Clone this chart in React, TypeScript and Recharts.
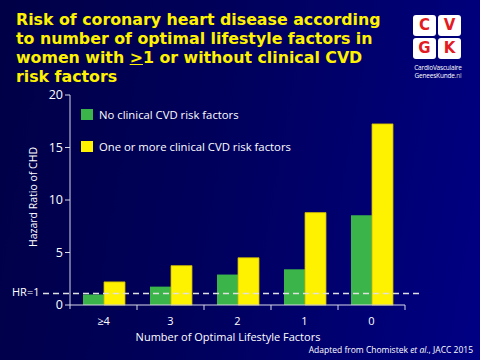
import { BarChart, Bar, XAxis, YAxis, ReferenceLine } from "recharts";

const categories = ["≥4", "3", "2", "1", "0"];
const noRiskFactors = [1.0, 1.75, 2.9, 3.4, 8.55];
const withRiskFactors = [2.2, 3.75, 4.5, 8.8, 17.25];
const yTicks = [0, 5, 10, 15, 20];

const data = categories.map((c, i) => ({
  cat: c,
  none: noRiskFactors[i],
  some: withRiskFactors[i],
}));

const GREEN = "#3bb54a";
const YELLOW = "#fff200";
const AXIS = "#d8d8e8";
const BAND = 67;

function XTick(props: any) {
  const { x, y, payload, index } = props;
  return (
    <g>
      {index === 0 && (
        <line x1={x - BAND / 2} x2={x - BAND / 2} y1={y - 8} y2={y - 4} stroke={AXIS} />
      )}
      <line x1={x + BAND / 2} x2={x + BAND / 2} y1={y - 8} y2={y - 3} stroke={AXIS} />
      <text x={x} y={y + 12} textAnchor="middle" fill="#fff" fontSize={11} fontFamily="Open Sans">
        {payload.value}
      </text>
    </g>
  );
}

// dashed HR line runs a bit past the plot on both sides
function HrLine(props: any) {
  const { x1, x2, y1 } = props;
  return (
    <line
      x1={x1 - 27}
      x2={x2 + 17}
      y1={y1}
      y2={y1}
      stroke="#e0e0e0"
      strokeWidth={1.6}
      strokeDasharray="6 4"
    />
  );
}

function Logo() {
  const box = (l: string, left: number, top: number) => (
    <div
      style={{
        position: "absolute",
        left,
        top,
        width: 23,
        height: 21,
        background: "#fff",
        borderRadius: 3,
        color: "#e31b23",
        fontWeight: 700,
        fontSize: 15,
        lineHeight: "21px",
        textAlign: "center",
        fontFamily: "DejaVu Sans",
      }}
    >
      {l}
    </div>
  );
  const small = {
    position: "absolute" as const,
    left: -5,
    width: 60,
    textAlign: "center" as const,
    color: "#fff",
    fontSize: 6.5,
    lineHeight: "7px",
    height: 7,
    fontFamily: "Open Sans",
    letterSpacing: -0.2,
    whiteSpace: "nowrap" as const,
  };
  return (
    <div style={{ position: "absolute", left: 413, top: 15, width: 50, height: 64 }}>
      {box("C", 0, 0)}
      {box("V", 25, 0)}
      {box("G", 0, 23)}
      {box("K", 25, 23)}
      <div style={{ ...small, top: 49 }}>CardioVasculaire</div>
      <div style={{ ...small, top: 57 }}>
        GeneesKunde<span style={{ color: "#ccc" }}>.nl</span>
      </div>
    </div>
  );
}

export default function App() {
  return (
    <div
      style={{
        position: "absolute",
        left: 0,
        top: 0,
        width: 480,
        height: 360,
        overflow: "hidden",
        background: "linear-gradient(100deg, #000046 0%, #00005c 45%, #000084 100%)",
      }}
    >
      <div
        style={{
          position: "absolute",
          left: 16,
          top: 10,
          width: 400,
          color: YELLOW,
          fontFamily: "DejaVu Sans",
          fontWeight: 700,
          fontSize: 15.8,
          lineHeight: "19px",
        }}
      >
        Risk of coronary heart disease according
        <br />
        to number of optimal lifestyle factors in
        <br />
        women with <span style={{ textDecoration: "underline" }}>&gt;</span>1 or without clinical CVD
        <br />
        risk factors
      </div>
      <Logo />
      <div
        style={{
          position: "absolute",
          left: 33,
          top: 197,
          transform: "translate(-50%, -50%) rotate(-90deg)",
          whiteSpace: "nowrap",
          color: "#fff",
          fontSize: 10.5,
          fontFamily: "Open Sans",
        }}
      >
        Hazard Ratio of CHD
      </div>
      <div
        style={{
          position: "absolute",
          left: 228,
          top: 336,
          transform: "translate(-50%, -50%)",
          whiteSpace: "nowrap",
          color: "#fff",
          fontSize: 11,
          fontFamily: "Open Sans",
        }}
      >
        Number of Optimal Lifestyle Factors
      </div>
      <div
        style={{
          position: "absolute",
          right: 7,
          top: 344,
          whiteSpace: "nowrap",
          color: "#fff",
          fontSize: 8.5,
          fontFamily: "Open Sans",
        }}
      >
        Adapted from Chomistek <i>et al</i>., JACC 2015
      </div>
      <div style={{ position: "absolute", left: 12, top: 284, color: "#fff", fontSize: 11, fontFamily: "Open Sans" }}>
        HR=1
      </div>
      {[
        { color: GREEN, label: "No clinical CVD risk factors", top: 107 },
        { color: YELLOW, label: "One or more clinical CVD risk factors", top: 139 },
      ].map((l) => (
        <div key={l.label} style={{ position: "absolute", left: 81, top: l.top, display: "flex", alignItems: "center" }}>
          <div style={{ width: 12, height: 11, background: l.color }} />
          <span style={{ marginLeft: 6, color: "#fff", fontSize: 11.3, fontFamily: "Open Sans" }}>{l.label}</span>
        </div>
      ))}
      <div style={{ position: "absolute", left: 0, top: 0 }}>
        <BarChart
          width={480}
          height={360}
          data={data}
          margin={{ top: 95, right: 75, bottom: 25, left: 0 }}
          barCategoryGap={13}
          barGap={0}
        >
          <YAxis
            width={70}
            domain={[0, 20]}
            ticks={yTicks}
            axisLine={{ stroke: AXIS }}
            tickLine={{ stroke: AXIS }}
            tickSize={5}
            tick={{ fill: "#fff", fontSize: 12.5, fontFamily: "Open Sans" }}
          />
          <XAxis
            dataKey="cat"
            height={30}
            axisLine={{ stroke: AXIS }}
            tickLine={false}
            tick={<XTick />}
          />
          <Bar dataKey="none" fill={GREEN} isAnimationActive={false} />
          <Bar dataKey="some" fill={YELLOW} stroke="#c8b400" strokeWidth={0.8} isAnimationActive={false} />
          <ReferenceLine y={1.1} ifOverflow="visible" shape={<HrLine />} />
        </BarChart>
      </div>
    </div>
  );
}
